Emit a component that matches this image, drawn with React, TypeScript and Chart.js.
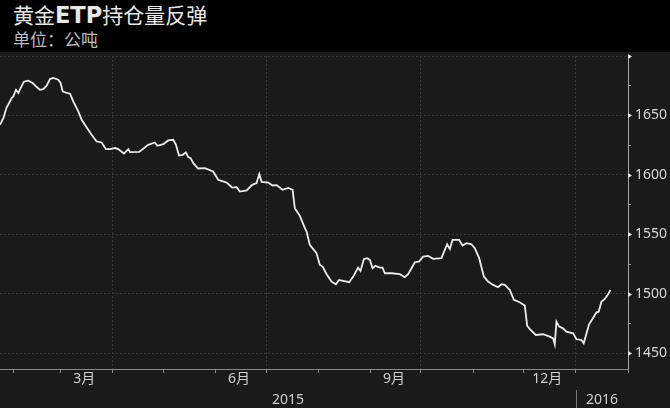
import React, { useEffect, useRef } from "react";
import { Chart, registerables } from "chart.js";

Chart.register(...registerables);

// Day offsets from 1 Jan 2015 (0 = 1 Jan 2015)
const days = [
  23, 25, 27, 27.9, 29.9, 30.9, 32.5, 33.9, 35.3, 37.2,
  39.8, 42.4, 44.8, 46.7, 48.7, 50.7, 52.7, 54.6, 57.6, 59,
  60.2, 62.6, 64.6, 66.5, 69.5, 71.5, 74.1, 77.4, 80.4, 83.4,
  85.9, 88.3, 91.3, 93.2, 96.6, 99.2, 100.2, 105.7, 111, 115,
  116.4, 120, 122.9, 125.9, 127.5, 129.3, 131.5, 133.4, 134.8, 136.2,
  137.8, 140.7, 144.7, 149.6, 152.6, 157.6, 160.9, 163.5, 165.5, 169.5,
  172.8, 175.4, 177, 178.4, 182.3, 184.9, 187.3, 190.8, 194.2, 196.8,
  198.1, 201.1, 204.1, 205.1, 207, 211, 213, 214.6, 217, 219.9,
  222.5, 224.4, 226.8, 230.4, 232.8, 235.7, 237.1, 239.1, 241.1, 242.7,
  244.3, 246, 248.6, 250.2, 251.6, 255.5, 260.5, 263.4, 265.4, 267.4,
  269.4, 271.9, 274.3, 277.3, 280.3, 285.2, 287.2, 288.6, 290.2, 291.8,
  295.7, 297.7, 300.1, 303, 305, 307.6, 310.4, 312.9, 315.9, 318.8,
  320.9, 322.8, 325.8, 328.2, 331.7, 334.7, 336.1, 337.7, 341.2, 345.6,
  349.5, 351.5, 352.5, 353.5, 355.1, 357.4, 359.4, 363.4, 365.4, 368.4,
  369.7, 372.9, 375.7, 377.3, 378.6, 380.2, 382.2, 384.2, 385.6,
];

// Gold ETP holdings, tonnes
const values = [
  1642.2, 1647.8, 1657.1, 1659, 1664.6, 1666, 1671.6, 1668.9, 1673.1, 1678.4,
  1679.2, 1677.3, 1673.9, 1671.6, 1672.2, 1675, 1680.6, 1681.5, 1680.1, 1677.3,
  1670.2, 1668.9, 1668.3, 1661.8, 1653.4, 1646.4, 1640.7, 1633.8, 1628.1, 1627.3,
  1621.7, 1621.7, 1622.6, 1621.7, 1618, 1621.7, 1619.2, 1619.4, 1625.3, 1627.3,
  1624.5, 1625.9, 1629, 1629.5, 1625.3, 1616.3, 1616.9, 1618.9, 1615, 1614.1,
  1609.9, 1605.4, 1605.7, 1602.9, 1595.9, 1593.6, 1589.4, 1589.7, 1586, 1586.9,
  1591.7, 1593.1, 1600.7, 1594.2, 1593.6, 1591.1, 1591.4, 1587.5, 1589.1, 1587.5,
  1572, 1565.6, 1555.2, 1552.4, 1541.2, 1534.2, 1524.3, 1522.9, 1516.5, 1510.3,
  1508.1, 1511.7, 1510.9, 1509.8, 1514.5, 1522, 1519.3, 1529.1, 1530, 1528.5,
  1521.5, 1523.5, 1522.1, 1522.1, 1517.3, 1517.3, 1516.5, 1514, 1516.5, 1521.5,
  1526.6, 1527.1, 1531.3, 1531.9, 1529.4, 1530, 1537, 1541.7, 1537.8, 1545.4,
  1545.4, 1540.6, 1542.6, 1541.7, 1538.4, 1530, 1514.5, 1510.3, 1507.5, 1505.5,
  1508.1, 1507.5, 1503.3, 1494.9, 1492.9, 1490.1, 1473.2, 1470.4, 1465.4, 1466,
  1464, 1462.6, 1457.6, 1476.6, 1472.4, 1471, 1468.2, 1466.8, 1461.8, 1461.2,
  1458.4, 1474.4, 1480.8, 1484.5, 1485, 1493.4, 1495.7, 1499.7, 1503.3,
];

const yTicks = [1450, 1475, 1500, 1525, 1550, 1575, 1600, 1625, 1650, 1675, 1700];
const monthTicks = [31, 59, 90, 120, 151, 181, 212, 243, 273, 304, 334, 365, 396];
const quarterTicks = [90, 181, 273, 365];
const monthLabels = ["3月", "6月", "9月", "12月"];
const monthLabelDays = [73, 165, 257, 348];
const yearLabels = ["2015", "2016"];
const yearLabelDays = [194, 380.5];
const yearBoundary = 365;

const FONT = '"Noto Sans", "Noto Sans CJK SC", sans-serif';
const GRID = "#3a3a3a";

const decor = {
  id: "decor",
  afterDraw(chart: any) {
    const { ctx, chartArea, scales } = chart;
    const x = scales.x;
    const y = scales.y;
    ctx.save();
    ctx.fillStyle = "#e6e6e6";
    yTicks
      .filter((v) => v % 50 === 0)
      .forEach((v) => {
        const py = Math.round(y.getPixelForValue(v)) + 0.5;
        const px = chartArea.right;
        ctx.beginPath();
        ctx.moveTo(px, py - 2.5);
        ctx.lineTo(px + 4, py);
        ctx.lineTo(px, py + 2.5);
        ctx.closePath();
        ctx.fill();
      });
    ctx.font = "14px " + FONT;
    ctx.fillStyle = "#cfcfcf";
    ctx.textAlign = "center";
    ctx.textBaseline = "middle";
    monthLabels.forEach((t, i) => {
      ctx.fillText(t, x.getPixelForValue(monthLabelDays[i]), chartArea.bottom + 10.5);
    });
    yearLabels.forEach((t, i) => {
      ctx.fillText(t, x.getPixelForValue(yearLabelDays[i]), chartArea.bottom + 31.5);
    });
    const sx = Math.round(x.getPixelForValue(yearBoundary)) + 0.5;
    ctx.strokeStyle = "#777";
    ctx.lineWidth = 1;
    ctx.beginPath();
    ctx.moveTo(sx, chartArea.bottom + 21);
    ctx.lineTo(sx, chart.height);
    ctx.stroke();
    ctx.restore();
  },
};

export default function App() {
  const ref = useRef<HTMLCanvasElement | null>(null);

  useEffect(() => {
    document.body.style.margin = "0";
    const canvas = ref.current;
    if (!canvas) return;
    const chart = new Chart(canvas, {
      type: "line",
      data: {
        datasets: [
          {
            data: days.map((d, i) => ({ x: d, y: values[i] })),
            borderColor: "#ececec",
            borderWidth: 1.8,
            pointRadius: 0,
            tension: 0,
            fill: false,
          },
        ],
      },
      options: {
        responsive: false,
        animation: false,
        devicePixelRatio: 1,
        layout: { padding: { top: 4, left: 0, right: 0, bottom: 0 } },
        plugins: {
          legend: { display: false },
          tooltip: { enabled: false },
          title: { display: false },
        },
        scales: {
          x: {
            type: "linear",
            min: 23,
            max: 396,
            position: "bottom",
            afterBuildTicks: (s: any) => {
              s.ticks = monthTicks.map((v) => ({ value: v }));
            },
            afterFit: (s: any) => {
              s.height = 39;
              s.paddingLeft = 0;
              s.paddingRight = 0;
            },
            ticks: { display: false },
            grid: {
              color: (c: any) =>
                c.tick && quarterTicks.includes(c.tick.value) ? GRID : "rgba(0,0,0,0)",
              lineWidth: 1,
              drawTicks: true,
              tickLength: 4,
              tickColor: "#8a8a8a",
              tickWidth: 1,
            },
            border: { display: true, color: "#8a8a8a", width: 1, dash: [2, 2] },
          },
          y: {
            type: "linear",
            position: "right",
            min: 1436.8,
            max: 1700,
            afterBuildTicks: (s: any) => {
              s.ticks = yTicks.map((v) => ({ value: v }));
            },
            afterFit: (s: any) => {
              s.width = 42;
              s.paddingTop = 0;
              s.paddingBottom = 0;
            },
            ticks: {
              autoSkip: false,
              padding: 4,
              color: "#d8d8d8",
              font: { family: FONT, size: 14 },
              callback: (v: any) => (v % 50 === 0 && v < 1700 ? String(v) : ""),
            },
            grid: {
              color: (c: any) =>
                c.tick && c.tick.value % 50 === 0 ? GRID : "rgba(0,0,0,0)",
              lineWidth: 1,
              drawTicks: true,
              tickLength: 3,
              tickColor: (c: any) =>
                c.tick && c.tick.value % 50 !== 0 ? "#999" : "rgba(0,0,0,0)",
            },
            border: { display: true, color: "#a8a8a8", width: 1, dash: [2, 2] },
          },
        },
      },
      plugins: [decor],
    });
    return () => chart.destroy();
  }, []);

  return (
    <div
      style={{
        position: "relative",
        width: 670,
        height: 408,
        background: "#000",
        overflow: "hidden",
        fontFamily: '"Noto Sans CJK SC", "Noto Sans", sans-serif',
      }}
    >
      <div
        style={{
          position: "absolute",
          left: 13,
          top: 0,
          fontSize: 21,
          lineHeight: "28px",
          color: "#e8e8e8",
          whiteSpace: "nowrap",
        }}
      >
        黄金
        <span style={{ fontFamily: '"DejaVu Sans", sans-serif', fontWeight: 700, fontSize: 22.5 }}>ETP</span>
        持仓量反弹
      </div>
      <div
        style={{
          position: "absolute",
          left: 13,
          top: 27,
          fontSize: 17,
          lineHeight: "24px",
          color: "#bdbdbd",
          whiteSpace: "nowrap",
        }}
      >
        单位：公吨
      </div>
      <div
        style={{
          position: "absolute",
          left: 0,
          top: 52,
          width: 670,
          height: 356,
          background: "#1a1a1a",
        }}
      >
        <canvas ref={ref} width={670} height={356} style={{ display: "block" }} />
      </div>
    </div>
  );
}
